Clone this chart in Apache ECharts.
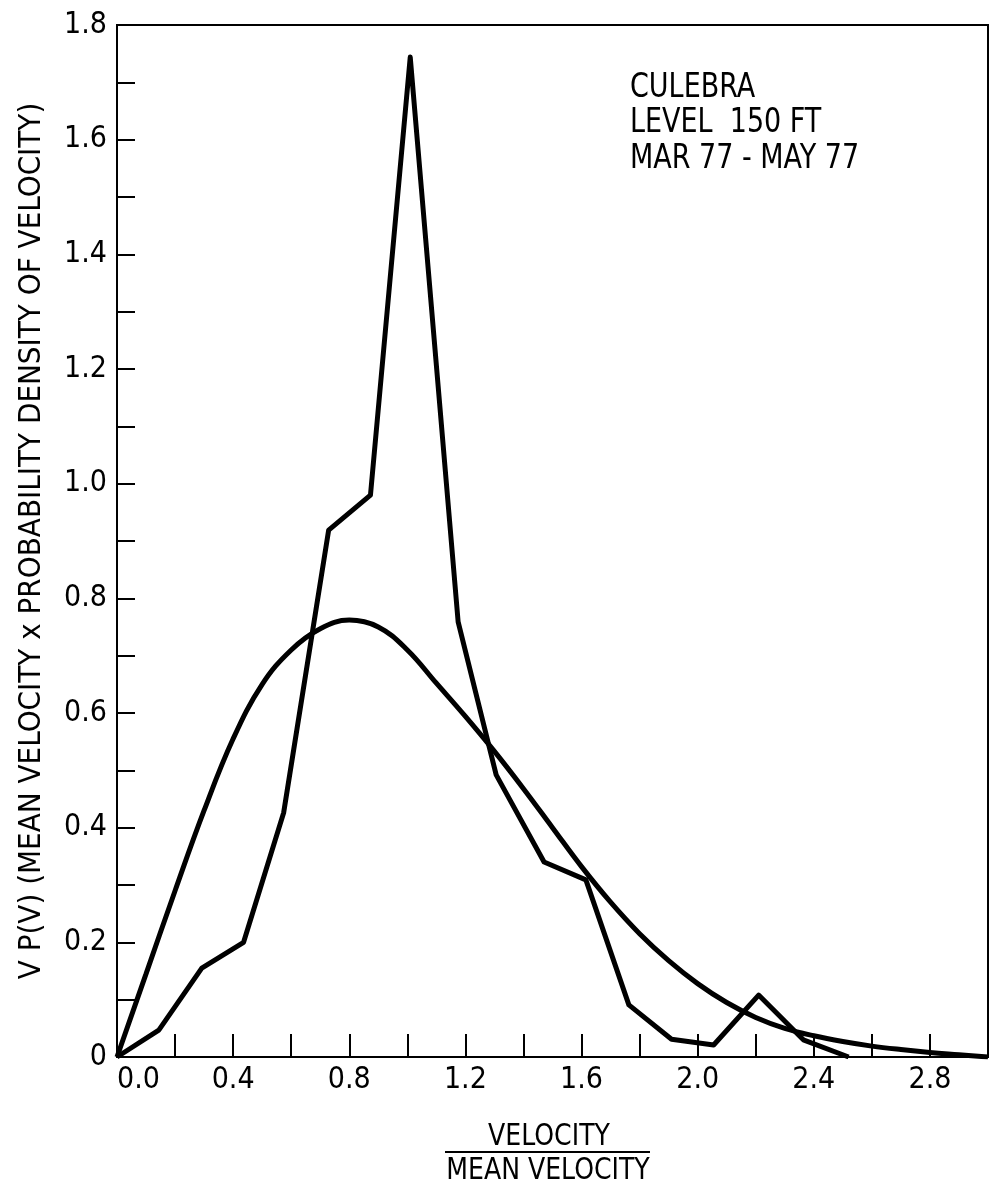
<!DOCTYPE html>
<html>
<head>
<meta charset="utf-8">
<script src="https://cdn.jsdelivr.net/npm/echarts@6/dist/echarts.min.js"></script>
<style>
    html, body { margin: 0; padding: 0; background: #fff; }
    #chart { width: 994px; height: 1196px; }
</style>
</head>
<body>
<div id="chart"></div>
<script>
// measured distribution (polyline)
const measuredX = [0, 0.144, 0.292, 0.436, 0.574, 0.729, 0.873, 1.01, 1.175, 1.306, 1.471, 1.615, 1.763, 1.91, 2.055, 2.21, 2.364, 2.52];
const measuredY = [0, 0.047, 0.155, 0.2, 0.426, 0.919, 0.98, 1.744, 0.759, 0.492, 0.34, 0.309, 0.091, 0.031, 0.021, 0.108, 0.03, 0];

// fitted curve
const fitX = [0, 0.1, 0.2, 0.3, 0.4, 0.5, 0.6, 0.7, 0.8, 0.9, 1.0, 1.1, 1.2, 1.3, 1.4, 1.5, 1.6, 1.7, 1.8, 1.9, 2.0, 2.1, 2.2, 2.3, 2.4, 2.5, 2.6, 2.7, 2.8, 2.9, 3.0];
const fitY = [0, 0.145, 0.29, 0.43, 0.555, 0.65, 0.71, 0.747, 0.762, 0.75, 0.71, 0.652, 0.594, 0.533, 0.468, 0.4, 0.332, 0.27, 0.215, 0.168, 0.128, 0.095, 0.069, 0.05, 0.037, 0.027, 0.019, 0.013, 0.008, 0.004, 0];

const xTickLabels = ['0.0', '0.4', '0.8', '1.2', '1.6', '2.0', '2.4', '2.8'];
const yTickLabels = ['0', '0.2', '0.4', '0.6', '0.8', '1.0', '1.2', '1.4', '1.6', '1.8'];
const noteLines = ['CULEBRA', 'LEVEL  150 FT', 'MAR 77 - MAY 77'];

const font = "'Liberation Sans Narrow', 'DejaVu Sans Condensed', sans-serif";

(() => {
    let chart = echarts.init(document.getElementById('chart'));
    let pairs = (xs, ys) => xs.map((x, i) => [x, ys[i]]);

    let option = {
        animation: false,
        backgroundColor: '#fff',
        grid: {
            left: 117, right: 6, top: 25, bottom: 139,
            containLabel: false, outerBoundsMode: 'none',
            show: true, borderColor: '#000', borderWidth: 2
        },
        xAxis: {
            type: 'value', min: 0, max: 3, interval: 0.2,
            axisLine: { lineStyle: { color: '#000', width: 2 } },
            axisTick: { inside: true, length: 23, lineStyle: { color: '#000', width: 2 } },
            splitLine: { show: false },
            axisLabel: {
                color: '#000', fontFamily: font, fontSize: 30, margin: 8,
                alignMinLabel: 'left',
                formatter: v => {
                    let k = Math.round(v * 10);
                    return k % 4 === 0 ? (xTickLabels[k / 4] || '') : '';
                }
            }
        },
        yAxis: {
            type: 'value', min: 0, max: 1.8, interval: 0.1,
            name: 'V P(V) (MEAN VELOCITY x PROBABILITY DENSITY OF VELOCITY)',
            nameLocation: 'middle', nameRotate: 90, nameGap: 70, nameMoveOverlap: false,
            nameTextStyle: { color: '#000', fontFamily: font, fontSize: 31 },
            axisLine: { lineStyle: { color: '#000', width: 2 } },
            axisTick: { inside: true, length: 18, lineStyle: { color: '#000', width: 2 } },
            splitLine: { show: false },
            axisLabel: {
                color: '#000', fontFamily: font, fontSize: 30, margin: 10,
                formatter: v => {
                    let k = Math.round(v * 10);
                    return k % 2 === 0 ? (yTickLabels[k / 2] || '') : '';
                }
            }
        },
        graphic: [
            {
                type: 'text', x: 630, y: 70, scaleY: 1.15,
                style: {
                    text: noteLines.join('\n'), fill: '#000',
                    font: '30px ' + font, lineHeight: 31
                }
            },
            {
                type: 'text', x: 549, y: 1122, scaleY: 1.1,
                style: { text: 'VELOCITY', fill: '#000', font: '28px ' + font, align: 'center' }
            },
            {
                type: 'line',
                shape: { x1: 445, y1: 1152, x2: 650, y2: 1152 },
                style: { stroke: '#000', lineWidth: 2 }
            },
            {
                type: 'text', x: 548, y: 1156, scaleY: 1.1,
                style: { text: 'MEAN VELOCITY', fill: '#000', font: '28px ' + font, align: 'center' }
            }
        ],
        series: [
            {
                type: 'line', data: pairs(measuredX, measuredY),
                showSymbol: false, symbol: 'none',
                lineStyle: { color: '#000', width: 5, join: 'round' }
            },
            {
                type: 'line', data: pairs(fitX, fitY),
                showSymbol: false, symbol: 'none', smooth: 0.4,
                lineStyle: { color: '#000', width: 5 }
            }
        ]
    };
    chart.setOption(option);
})();
</script>
</body>
</html>
